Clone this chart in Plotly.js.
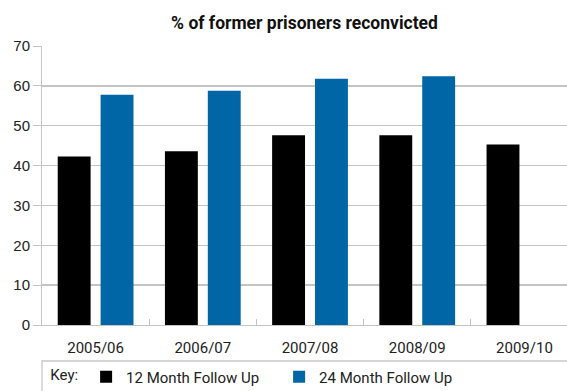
<!DOCTYPE html>
<html>
<head>
<meta charset="utf-8">
<script src="https://cdn.plot.ly/plotly-3.0.1.min.js"></script>
<style>
  html, body { margin: 0; padding: 0; background: #fff; }
  #chart { width: 567px; height: 391px; }
</style>
</head>
<body>
<div id="chart"></div>
<script>
const categories = ['2005/06', '2006/07', '2007/08', '2008/09', '2009/10'];
const twelveMonth = [42.3, 43.6, 47.6, 47.6, 45.3];
const twentyFourMonth = [57.8, 58.8, 61.8, 62.4, null];
const seriesNames = ['12 Month Follow Up', '24 Month Follow Up'];
const yTicks = [0, 10, 20, 30, 40, 50, 60, 70];

const traces = [
  {
    type: 'bar', name: seriesNames[0], x: categories, y: twelveMonth,
    marker: { color: '#000000' }
  },
  {
    type: 'bar', name: seriesNames[1], x: categories, y: twentyFourMonth,
    marker: { color: '#0066a6' }
  }
];

const layout = {
  width: 567, height: 391,
  margin: { l: 42, r: 0, t: 46, b: 66, autoexpand: false },
  paper_bgcolor: '#ffffff', plot_bgcolor: '#ffffff',
  font: { family: 'Roboto, "Liberation Sans", sans-serif', color: '#222222', size: 14 },
  title: {
    text: '<b>% of former prisoners reconvicted</b>',
    font: { family: 'Roboto, sans-serif', size: 17.5, color: '#111111' },
    x: 0.5, xref: 'paper', xanchor: 'center', y: 1 - 23 / 391, yanchor: 'middle'
  },
  barmode: 'group', bargap: 0.2, bargroupgap: 0.233,
  showlegend: true,
  hovermode: false,
  xaxis: {
    type: 'category', range: [-0.5, 4.397],
    showgrid: false, showline: true, linecolor: '#c4c4c4', linewidth: 1,
    ticks: 'inside', tickson: 'boundaries', ticklen: 6, tickcolor: '#c4c4c4',
    tickfont: { family: 'Roboto, sans-serif', size: 15, color: '#222222' },
    ticklabelstandoff: 9, zeroline: false, fixedrange: true
  },
  yaxis: {
    range: [0, 70], tickvals: yTicks, ticktext: yTicks.map(String),
    showgrid: true, gridcolor: '#c4c4c4', gridwidth: 1.3,
    showline: true, linecolor: '#c4c4c4', linewidth: 1,
    ticks: 'outside', ticklen: 8, tickcolor: '#c4c4c4',
    tickfont: { family: '"Liberation Sans", Arial, sans-serif', size: 15, color: '#222222' },
    zeroline: false, fixedrange: true
  },
  legend: {
    orientation: 'h', x: 0.012, xanchor: 'left', y: -(377 - 325) / 279, yanchor: 'middle',
    title: { text: 'Key:', side: 'left', font: { family: 'Roboto, sans-serif', size: 15 } },
    font: { family: 'Roboto, sans-serif', size: 15, color: '#222222' },
    entrywidth: 148, itemwidth: 30, traceorder: 'normal',
    bgcolor: 'rgba(0,0,0,0)', borderwidth: 0
  },
  shapes: [
    {
      type: 'rect', xref: 'paper', yref: 'paper',
      x0: 0, x1: 1.05, y0: -0.5, y1: -(361 - 325) / 279,
      line: { color: '#c8c8c8', width: 1.3 }, fillcolor: 'rgba(0,0,0,0)', layer: 'below'
    }
  ]
};

Plotly.newPlot('chart', traces, layout, { staticPlot: true, displayModeBar: false });
</script>
</body>
</html>
